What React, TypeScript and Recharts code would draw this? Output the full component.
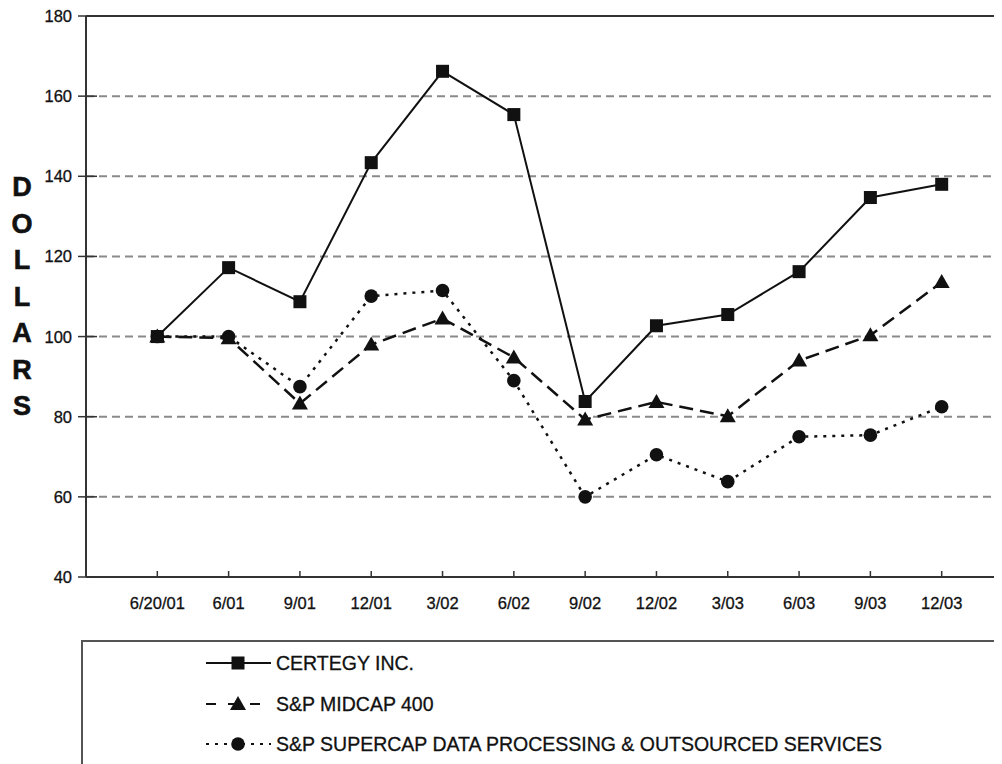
import React from 'react';
import { LineChart, Line, XAxis, YAxis, CartesianGrid, ReferenceLine, Legend } from 'recharts';

const categories = ['6/20/01', '6/01', '9/01', '12/01', '3/02', '6/02', '9/02', '12/02', '3/03', '6/03', '9/03', '12/03'];
const certegy = [100, 117.2, 108.7, 143.4, 166.2, 155.4, 83.8, 102.7, 105.5, 116.2, 134.7, 138.0];
const midcap = [100, 99.6, 83.3, 98, 104.5, 94.8, 79.3, 83.7, 80.1, 94, 100.3, 113.6];
const supercap = [100, 100, 87.5, 110.1, 111.5, 89, 60, 70.5, 63.8, 75, 75.4, 82.5];
const yTicks = [40, 60, 80, 100, 120, 140, 160, 180];
const xTicks = categories.map((_, i) => i + 1);
const yLabel = 'DOLLARS';
const seriesNames = {
  certegy: 'CERTEGY INC.',
  midcap: 'S&P MIDCAP 400',
  supercap: 'S&P SUPERCAP DATA PROCESSING & OUTSOURCED SERVICES',
};

const data = categories.map((c, i) => ({
  i: i + 1,
  cat: c,
  certegy: certegy[i],
  midcap: midcap[i],
  supercap: supercap[i],
}));

const FONT = '"Liberation Sans", Arial, Helvetica, sans-serif';
const INK = '#111';

function Marker({ shape, cx, cy }: { shape: string; cx: number; cy: number }) {
  if (shape === 'square') {
    return <rect x={cx - 6.5} y={cy - 6.5} width={13} height={13} fill={INK} />;
  }
  if (shape === 'triangle') {
    return <polygon points={`${cx},${cy - 8} ${cx + 8},${cy + 6} ${cx - 8},${cy + 6}`} fill={INK} />;
  }
  return <circle cx={cx} cy={cy} r={6.8} fill={INK} />;
}

const shapeOf: Record<string, string> = { certegy: 'square', midcap: 'triangle', supercap: 'circle' };
const dashOf: Record<string, string | undefined> = { certegy: undefined, midcap: '14 7', supercap: '3 6' };
const legendDashOf: Record<string, string | undefined> = { certegy: undefined, midcap: '10 12', supercap: '3 6' };

const makeDot = (shape: string) => (props: any) => {
  const { cx, cy, index } = props;
  if (cx == null || cy == null) return <g key={index} />;
  return <Marker key={index} shape={shape} cx={cx} cy={cy} />;
};

const XTick = (props: any) => {
  const { x, y, payload } = props;
  return (
    <g>
      <line x1={x} x2={x} y1={y} y2={y - 6} stroke="#333" strokeWidth={1.5} />
      <text x={x} y={y + 26} textAnchor="middle" dominantBaseline="central" fontSize={16.5} fill={INK} stroke={INK} strokeWidth={0.3} fontFamily={FONT}>
        {categories[payload.value - 1]}
      </text>
    </g>
  );
};

const YTick = (props: any) => {
  const { x, y, payload } = props;
  return (
    <g>
      <line x1={x - 8} x2={x + 11} y1={y} y2={y} stroke="#333" strokeWidth={1.5} />
      <text x={x - 14} y={y} textAnchor="end" dominantBaseline="central" fontSize={16.5} fill={INK} stroke={INK} strokeWidth={0.3} fontFamily={FONT}>
        {payload.value}
      </text>
    </g>
  );
};

const DollarsLabel = (props: any) => {
  const vb = props.viewBox || { x: 0, y: 0, width: 0, height: 0 };
  const midY = vb.y + vb.height / 2;
  const letters = yLabel.split('');
  const n = letters.length;
  return (
    <g>
      {letters.map((ch, k) => (
        <text
          key={k}
          x={14}
          y={midY + (k - (n - 1) / 2) * 36.5}
          textAnchor="middle"
          dominantBaseline="central"
          fontSize={27}
          fontWeight="bold"
          fill={INK}
          stroke={INK}
          strokeWidth={0.6}
          fontFamily={FONT}
        >
          {ch}
        </text>
      ))}
    </g>
  );
};

const LegendBox = (props: any) => {
  const payload = props.payload || [];
  const order = ['certegy', 'midcap', 'supercap'];
  const items = order
    .map((k) => payload.find((p: any) => p.dataKey === k))
    .filter(Boolean);
  return (
    <div
      style={{
        marginLeft: 73,
        height: 124,
        borderTop: '2px solid #555',
        borderLeft: '2px solid #555',
        boxSizing: 'border-box',
        position: 'relative',
        fontFamily: FONT,
      }}
    >
      {items.map((it: any, r: number) => {
        const key = it.dataKey as string;
        const top = [21, 62, 102][r];
        return (
          <div
            key={key}
            style={{ position: 'absolute', left: 122, top: top - 11, height: 22, display: 'flex', alignItems: 'center', whiteSpace: 'nowrap' }}
          >
            <svg width={68} height={22} style={{ display: 'block' }}>
              <line x1={1} x2={66} y1={11} y2={11} stroke={INK} strokeWidth={2} strokeDasharray={legendDashOf[key]} />
              <Marker shape={shapeOf[key]} cx={33} cy={11} />
            </svg>
            <span style={{ marginLeft: 3, fontSize: 19.5, color: INK, lineHeight: '22px', WebkitTextStroke: '0.3px #111' }}>{it.value}</span>
          </div>
        );
      })}
    </div>
  );
};

export default function App() {
  return (
    <div style={{ width: 994, height: 756, overflow: 'hidden', position: 'relative', background: '#fff' }}>
      <LineChart width={1010} height={756} data={data} margin={{ top: 8, right: 5, bottom: 0, left: 0 }}>
        <CartesianGrid vertical={false} stroke="#8a8a8a" strokeWidth={2} strokeDasharray="8 5" />
        <XAxis
          dataKey="i"
          type="number"
          domain={[0, 13]}
          ticks={xTicks}
          interval={0}
          height={63}
          tickLine={false}
          tickSize={0}
          tickMargin={0}
          axisLine={{ stroke: '#333', strokeWidth: 2 }}
          tick={<XTick />}
        />
        <YAxis
          type="number"
          domain={[40, 180]}
          ticks={yTicks}
          interval={0}
          width={78}
          tickLine={false}
          tickSize={0}
          tickMargin={0}
          axisLine={{ stroke: '#333', strokeWidth: 2 }}
          tick={<YTick />}
          label={<DollarsLabel />}
        />
        <ReferenceLine y={180} stroke="#333" strokeWidth={2} />
        <Legend verticalAlign="bottom" height={124} wrapperStyle={{ height: 124 }} content={<LegendBox />} />
        <Line
          dataKey="supercap"
          name={seriesNames.supercap}
          stroke={INK}
          strokeWidth={2.5}
          strokeDasharray={dashOf.supercap}
          dot={makeDot('circle')}
          activeDot={false}
          isAnimationActive={false}
          type="linear"
        />
        <Line
          dataKey="midcap"
          name={seriesNames.midcap}
          stroke={INK}
          strokeWidth={2.5}
          strokeDasharray={dashOf.midcap}
          dot={makeDot('triangle')}
          activeDot={false}
          isAnimationActive={false}
          type="linear"
        />
        <Line
          dataKey="certegy"
          name={seriesNames.certegy}
          stroke={INK}
          strokeWidth={2}
          dot={makeDot('square')}
          activeDot={false}
          isAnimationActive={false}
          type="linear"
        />
      </LineChart>
    </div>
  );
}
